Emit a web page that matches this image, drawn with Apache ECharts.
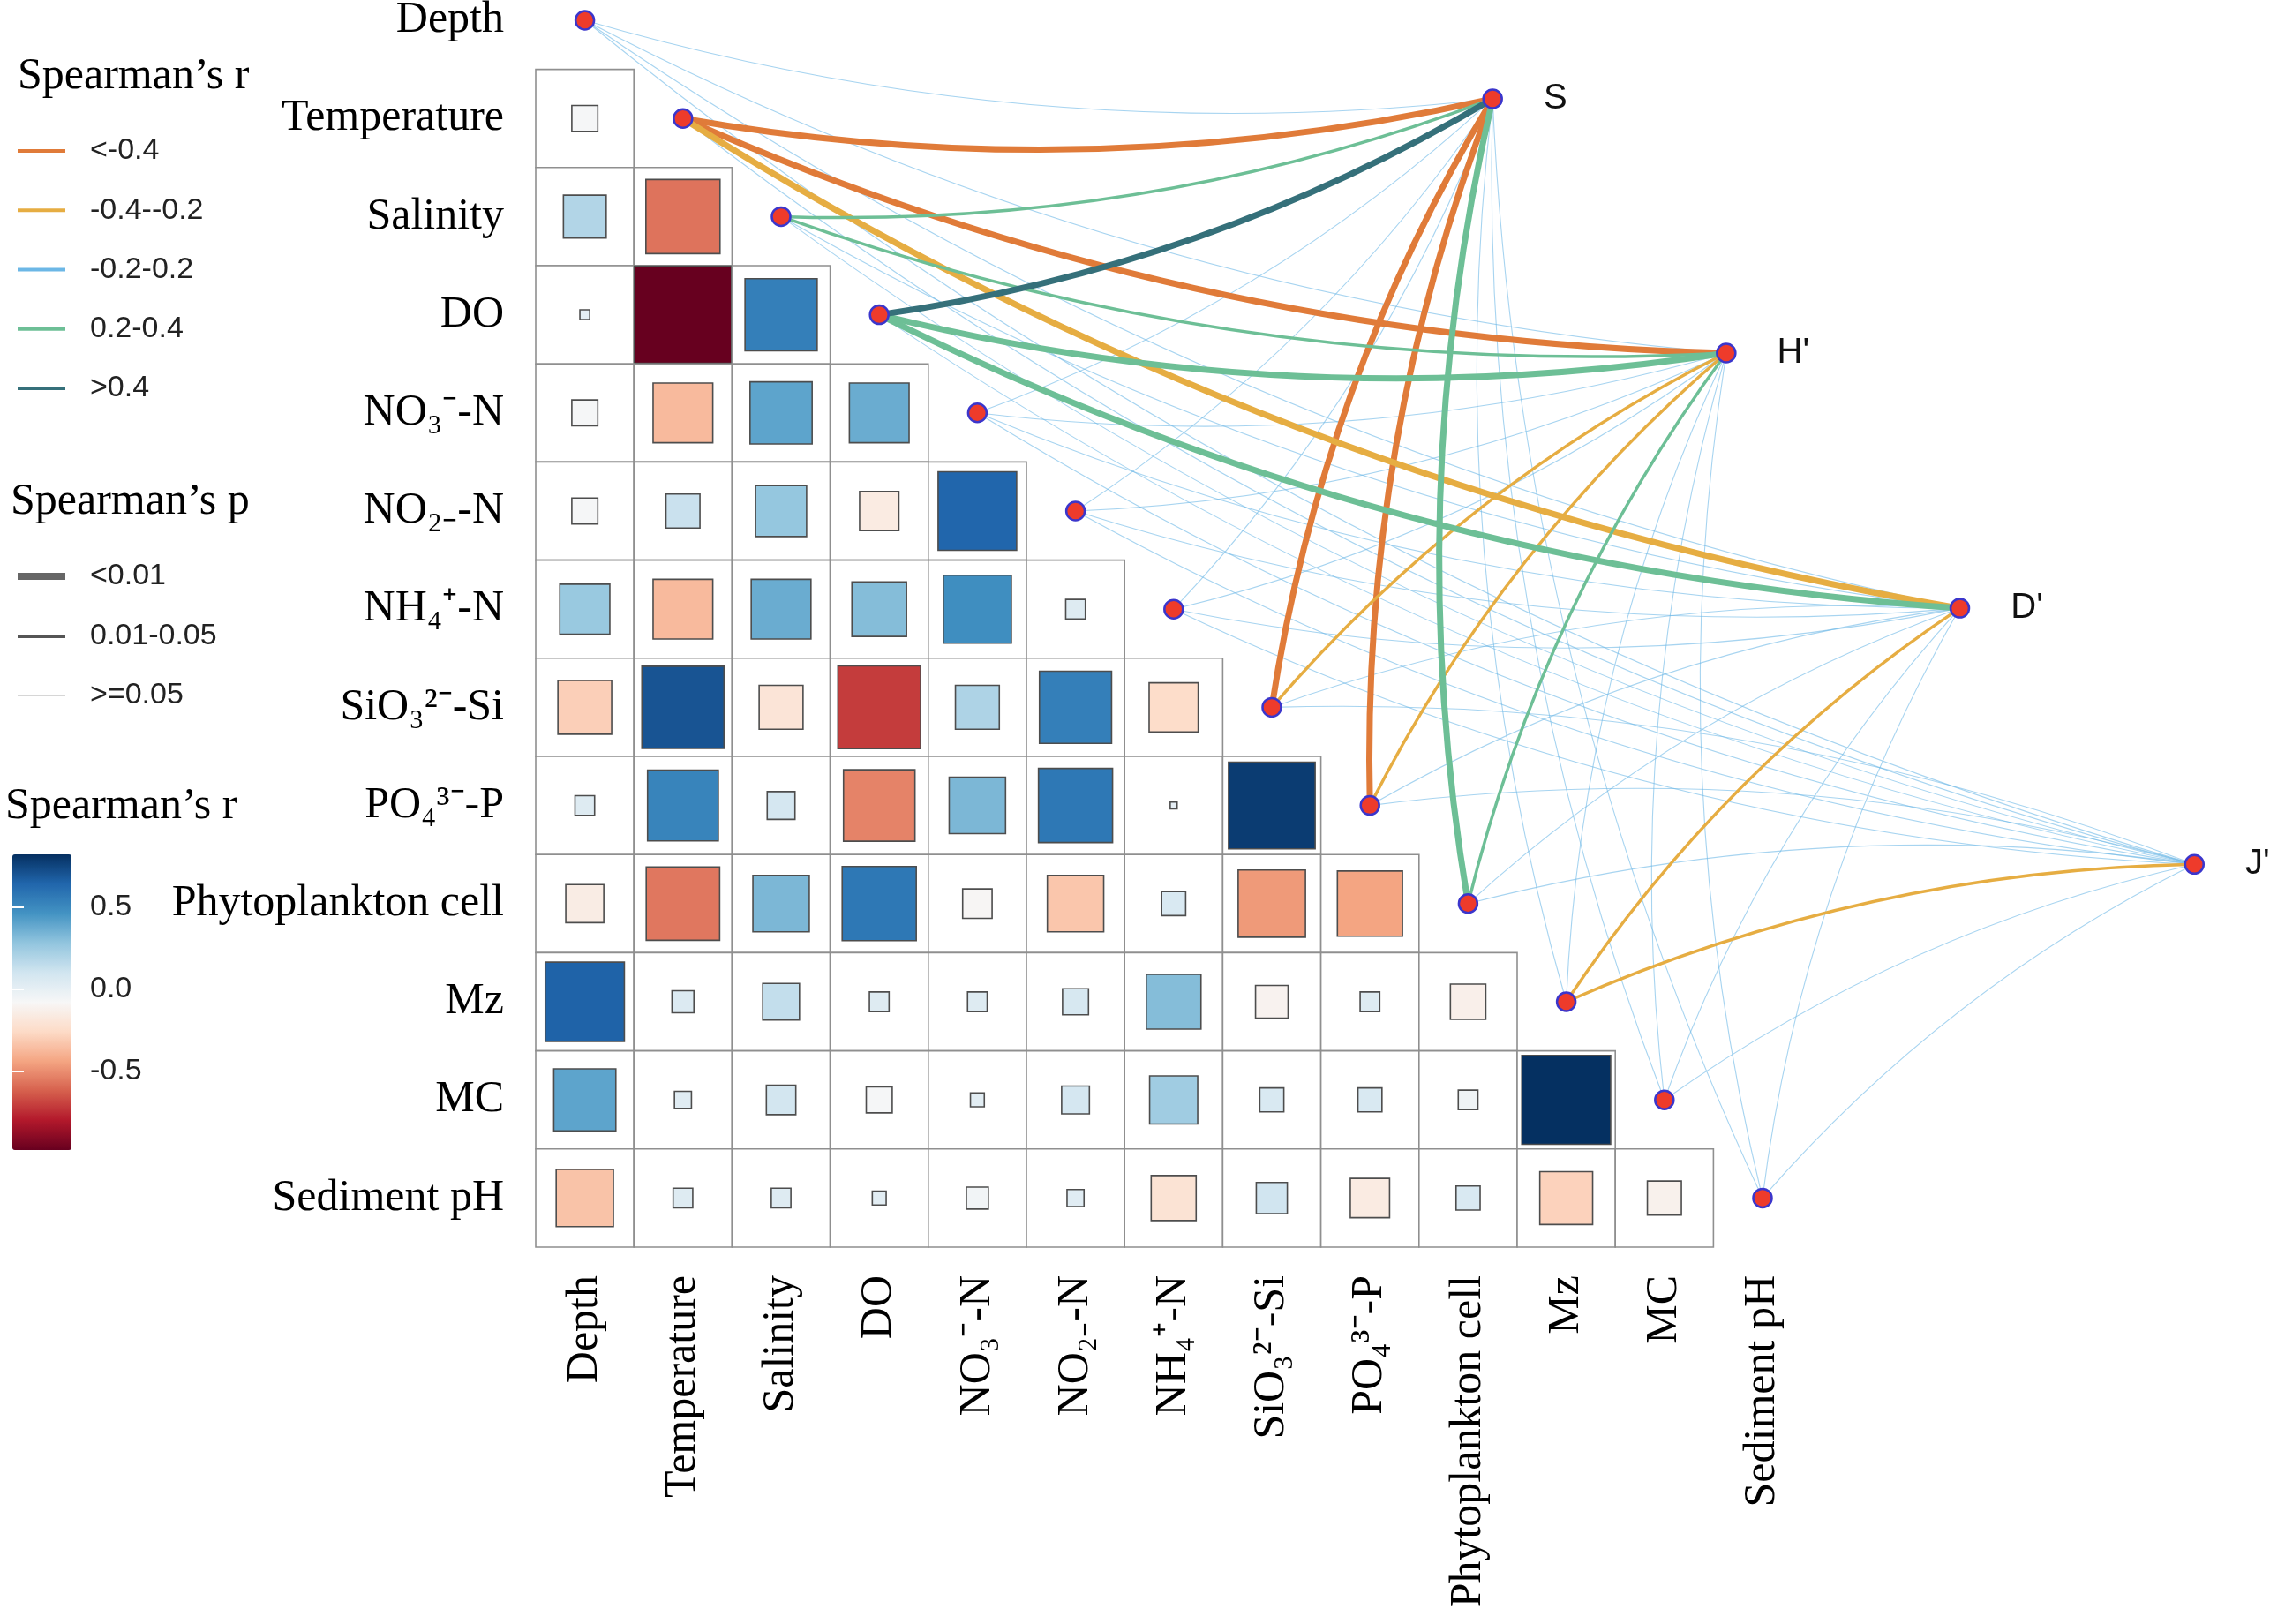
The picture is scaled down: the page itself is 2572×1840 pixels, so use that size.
<!DOCTYPE html>
<html><head><meta charset="utf-8">
<script src="https://cdn.jsdelivr.net/npm/echarts@6/dist/echarts.min.js"></script>
<style>html,body{margin:0;padding:0;background:#fff}#c{width:2572px;height:1840px}</style>
</head><body><div id="c"></div>
<script>
// ---------------- data ----------------
const variables = ['Depth','Temperature','Salinity','DO','NO₃⁻-N','NO₂₋-N','NH₄⁺-N','SiO₃²⁻-Si','PO₄³⁻-P','Phytoplankton cell','Mz','MC','Sediment pH'];

// Spearman's r, lower triangle: each row vs. the variables before it
const r_Temperature = [-0.07];
const r_Salinity    = [0.19, -0.57];
const r_DO          = [0.01, -0.98, 0.54];
const r_NO3         = [-0.07, -0.37, 0.40, 0.37];
const r_NO2         = [-0.07, 0.12, 0.27, -0.16, 0.64];
const r_NH4         = [0.26, -0.37, 0.37, 0.31, 0.48, 0.04];
const r_SiO3        = [-0.30, 0.70, -0.20, -0.71, 0.20, 0.54, -0.25];
const r_PO4         = [0.04, 0.52, 0.08, -0.53, 0.33, 0.57, 0.005, 0.78];
const r_Phyto       = [-0.15, -0.56, 0.33, 0.57, -0.09, -0.33, 0.06, -0.47, -0.44];
const r_Mz          = [0.65, 0.05, 0.14, 0.04, 0.04, 0.07, 0.31, -0.11, 0.04, -0.13];
const r_MC          = [0.40, 0.03, 0.09, -0.07, 0.02, 0.08, 0.24, 0.06, 0.06, -0.04, 0.82];
const r_SedpH       = [-0.34, 0.04, 0.04, 0.02, -0.05, 0.03, -0.21, 0.10, -0.16, 0.06, -0.29, -0.12];
const corrRows = [[], r_Temperature, r_Salinity, r_DO, r_NO3, r_NO2, r_NH4, r_SiO3, r_PO4, r_Phyto, r_Mz, r_MC, r_SedpH];

// network (Mantel) nodes on the right, positions in matrix-cell units
const rightNodes  = ['S', "H'", "D'", "J'"];
const rightNodeX  = [9.25, 11.63, 14.01, 16.40];
const rightNodeY  = [0.80, 3.39, 5.99, 8.60];

const rClasses = ['<-0.4', '-0.4--0.2', '-0.2-0.2', '0.2-0.4', '>0.4'];
const pClasses = ['<0.01', '0.01-0.05', '>=0.05'];

// link classes from each right node to the 13 variables (order = variables)
const linkR_S  = ['-0.2-0.2','<-0.4','0.2-0.4','>0.4','-0.2-0.2','-0.2-0.2','-0.2-0.2','<-0.4','<-0.4','0.2-0.4','-0.2-0.2','-0.2-0.2','-0.2-0.2'];
const linkP_S  = ['>=0.05','<0.01','0.01-0.05','<0.01','>=0.05','>=0.05','>=0.05','<0.01','<0.01','<0.01','>=0.05','>=0.05','>=0.05'];
const linkR_H  = ['-0.2-0.2','<-0.4','0.2-0.4','0.2-0.4','-0.2-0.2','-0.2-0.2','-0.2-0.2','-0.4--0.2','-0.4--0.2','0.2-0.4','-0.2-0.2','-0.2-0.2','-0.2-0.2'];
const linkP_H  = ['>=0.05','<0.01','0.01-0.05','<0.01','>=0.05','>=0.05','>=0.05','0.01-0.05','0.01-0.05','0.01-0.05','>=0.05','>=0.05','>=0.05'];
const linkR_D  = ['-0.2-0.2','-0.4--0.2','-0.2-0.2','0.2-0.4','-0.2-0.2','-0.2-0.2','-0.2-0.2','-0.2-0.2','-0.2-0.2','-0.2-0.2','-0.4--0.2','-0.2-0.2','-0.2-0.2'];
const linkP_D  = ['>=0.05','<0.01','>=0.05','<0.01','>=0.05','>=0.05','>=0.05','>=0.05','>=0.05','>=0.05','0.01-0.05','>=0.05','>=0.05'];
const linkR_J  = ['-0.2-0.2','-0.2-0.2','-0.2-0.2','-0.2-0.2','-0.2-0.2','-0.2-0.2','-0.2-0.2','-0.2-0.2','-0.2-0.2','-0.2-0.2','-0.4--0.2','-0.2-0.2','-0.2-0.2'];
const linkP_J  = ['>=0.05','>=0.05','>=0.05','>=0.05','>=0.05','>=0.05','>=0.05','>=0.05','>=0.05','>=0.05','0.01-0.05','>=0.05','>=0.05'];
const linkR = [linkR_S, linkR_H, linkR_D, linkR_J];
const linkP = [linkP_S, linkP_H, linkP_D, linkP_J];

const colorbarTicks = [-0.5, 0, 0.5];

// ---------------- styles ----------------
const SERIF = "'Liberation Serif','Times New Roman',serif";
const SANS = "'Liberation Sans',Arial,sans-serif";
const rdbu = ['#67001F','#B2182B','#D6604D','#F4A582','#FDDBC7','#F7F7F7','#D1E5F0','#92C5DE','#4393C3','#2166AC','#053061'];
const rColors = {'<-0.4':'#E07B39','-0.4--0.2':'#E6AD42','-0.2-0.2':'#6CB7E6','0.2-0.4':'#6DBF96','>0.4':'#35707A'};
const pWidths = {'<0.01':7,'0.01-0.05':3.5,'>=0.05':1.1};
const pLegendColors = {'<0.01':'#666666','0.01-0.05':'#555555','>=0.05':'#c8c8c8'};
const pLegendHeights = {'<0.01':8,'0.01-0.05':4,'>=0.05':1.3};
const pLegendTops = {'<0.01':636,'0.01-0.05':704,'>=0.05':771};
const LABEL_FS = 50;
const LEG_FS = 34;

// ---------------- build ----------------
const cells = [];
corrRows.forEach((row, i) => row.forEach((r, j) => cells.push([j, i, r])));

const linksByR = {};
rClasses.forEach(c => linksByR[c] = []);
rightNodes.forEach((nm, k) => {
  variables.forEach((v, i) => {
    const rc = linkR[k][i], pc = linkP[k][i];
    linksByR[rc].push({
      coords: [[i, i], [rightNodeX[k], rightNodeY[k]]],
      lineStyle: { width: pWidths[pc], curveness: i <= 6 ? -0.1 : 0.1 }
    });
  });
});

const nodeData = variables.map((v, i) => ({ name: v, value: [i, i], label: { show: false } }))
  .concat(rightNodes.map((n, k) => ({ name: n, value: [rightNodeX[k], rightNodeY[k]], label: { show: true } })));

function renderCell(params, api) {
  const c = api.coord([api.value(0), api.value(1)]);
  const s = api.size([1, 1]);
  const w = s[0], h = s[1];
  const side = Math.sqrt(Math.abs(api.value(2))) * w;
  return { type: 'group', children: [
    { type: 'rect', shape: { x: c[0] - w / 2, y: c[1] - h / 2, width: w, height: h },
      style: { fill: '#fff', stroke: '#8f8f8f', lineWidth: 1.6 } },
    { type: 'rect', shape: { x: c[0] - side / 2, y: c[1] - side / 2, width: side, height: side },
      style: { fill: api.visual('color'), stroke: '#4d4d4d', lineWidth: 1.6 } }
  ]};
}

const idx = variables.map((v, i) => i);
const U = 111.2;

const lineOrder = ['-0.2-0.2', '<-0.4', '-0.4--0.2', '0.2-0.4', '>0.4'];
const linesSeries = lineOrder.map(c => ({
  type: 'lines', name: c, coordinateSystem: 'cartesian2d', xAxisIndex: 0, yAxisIndex: 0,
  silent: true, clip: false, polyline: false,
  lineStyle: { color: rColors[c], opacity: c === '-0.2-0.2' ? 0.6 : 1 },
  data: linksByR[c], z: 3
}));
const pSeries = pClasses.map(c => ({
  type: 'lines', name: c, coordinateSystem: 'cartesian2d', xAxisIndex: 0, yAxisIndex: 0,
  lineStyle: { color: pLegendColors[c], width: pWidths[c] }, data: []
}));

const titleStyle = { fontFamily: SERIF, fontSize: LABEL_FS, lineHeight: 60, fontWeight: 'normal', color: '#000' };
const legendText = { fontFamily: SANS, fontSize: LEG_FS, color: '#222', lineHeight: 34, padding: [0, 0, 0, 23] };

const option = {
  animation: false,
  backgroundColor: '#fff',
  title: [
    { text: 'Spearman’s r', left: 20, top: 57, padding: 0, textStyle: titleStyle },
    { text: 'Spearman’s p', left: 12, top: 539, padding: 0, textStyle: titleStyle },
    { text: 'Spearman’s r', left: 6, top: 884, padding: 0, textStyle: titleStyle }
  ],
  legend: [
    { data: rClasses.map(c => ({ name: c, itemStyle: { color: rColors[c], borderWidth: 0, opacity: 1 } })),
      left: 20, top: 154, orient: 'vertical', icon: 'rect', itemWidth: 54, itemHeight: 4, itemGap: 33.25,
      padding: 0, selectedMode: false, textStyle: legendText }
  ].concat(pClasses.map(c => ({
      data: [{ name: c, itemStyle: { color: pLegendColors[c], borderWidth: 0 } }],
      left: 20, top: pLegendTops[c], orient: 'vertical', icon: 'rect', itemWidth: 54, itemHeight: pLegendHeights[c],
      padding: 0, selectedMode: false, textStyle: legendText }))),
  visualMap: {
    type: 'continuous', seriesIndex: 0, dimension: 2, min: -0.98, max: 0.82,
    inRange: { color: rdbu }, calculable: false, show: true, orient: 'vertical',
    left: 14, top: 968, itemWidth: 67, itemHeight: 335, padding: 0, text: null, hoverLink: false
  },
  grid: [
    { left: 607, top: 23 - 0.2 * U, width: 17.4 * U, height: 12.7 * U, containLabel: false, outerBoundsMode: 'none' },
    { left: 14, top: 968, width: 67, height: 335, containLabel: false, outerBoundsMode: 'none' }
  ],
  xAxis: [
    { type: 'value', gridIndex: 0, min: -0.5, max: 16.9,
      axisLine: { show: false }, axisTick: { show: false }, splitLine: { show: false },
      axisLabel: { customValues: idx, formatter: v => variables[Math.round(v)], rotate: 90, margin: 32,
        fontFamily: SERIF, fontSize: LABEL_FS, color: '#000' } },
    { type: 'value', gridIndex: 1, min: 0, max: 1, show: false }
  ],
  yAxis: [
    { type: 'value', gridIndex: 0, inverse: true, min: -0.2, max: 12.5,
      axisLine: { show: false }, axisTick: { show: false }, splitLine: { show: false },
      axisLabel: { customValues: idx, formatter: v => variables[Math.round(v)], margin: 36,
        padding: [12, 0, 0, 0],
        fontFamily: SERIF, fontSize: LABEL_FS, color: '#000' } },
    { type: 'value', gridIndex: 1, min: -0.98, max: 0.82, position: 'right', z: 10,
      axisLine: { show: false }, splitLine: { show: false },
      axisTick: { show: true, inside: true, length: 13, customValues: colorbarTicks, lineStyle: { color: '#fff', width: 2 } },
      axisLabel: { customValues: colorbarTicks, formatter: v => v.toFixed(1), margin: 21,
        fontFamily: SANS, fontSize: LEG_FS, color: '#222' } },
    { type: 'value', gridIndex: 1, min: -0.98, max: 0.82, position: 'left', z: 10,
      axisLine: { show: false }, splitLine: { show: false }, axisLabel: { show: false },
      axisTick: { show: true, inside: true, length: 13, customValues: colorbarTicks, lineStyle: { color: '#fff', width: 2 } } }
  ],
  series: [
    { type: 'custom', name: 'corr', xAxisIndex: 0, yAxisIndex: 0, renderItem: renderCell, data: cells,
      encode: { x: 0, y: 1 }, silent: true, z: 2 }
  ].concat(linesSeries).concat(pSeries).concat([
    { type: 'scatter', name: 'nodes', xAxisIndex: 0, yAxisIndex: 0, data: nodeData, symbolSize: 21, clip: false, z: 5,
      itemStyle: { color: '#EE3B2B', borderColor: '#3B36CC', borderWidth: 2.5, opacity: 1 },
      label: { position: 'right', distance: 46, formatter: '{b}', fontFamily: SANS, fontSize: 40, color: '#111' },
      silent: true },
    { type: 'scatter', xAxisIndex: 1, yAxisIndex: 1, data: [], silent: true }
  ])
};

const chart = echarts.init(document.getElementById('c'), null, { renderer: 'canvas' });
chart.setOption(option);
</script>
</body></html>
